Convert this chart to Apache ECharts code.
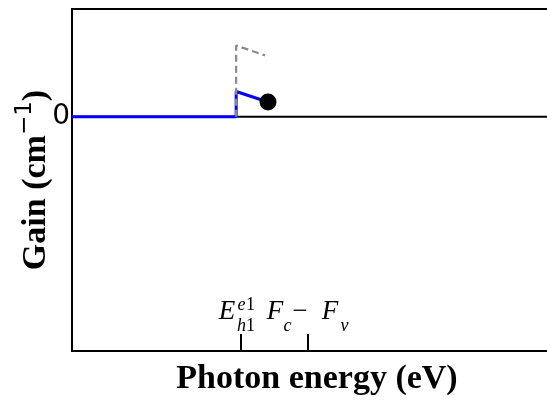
<!DOCTYPE html>
<html>
<head>
<meta charset="utf-8">
<script src="https://cdn.jsdelivr.net/npm/echarts@6/dist/echarts.min.js"></script>
<style>
  html, body { margin: 0; padding: 0; background: #fff; }
  #chart { width: 547px; height: 401px; }
</style>
</head>
<body>
<div id="chart"></div>
<script>
// Axis ranges (photon energy in eV, gain in arbitrary units)
const xMin = 1.35, xMax = 1.55;
const yMin = -1.0, yMax = 0.46;

// Marked energies on the x axis
const bandEdge = 1.419;        // E_h1^e1
const quasiFermiSep = 1.4463;  // F_c - F_v
const tickValues = [bandEdge, quasiFermiSep];

// Gain spectrum (blue), from the low-energy edge up to the end point
const gainEnergy = [1.35, 1.417, 1.417, 1.430];
const gainValue  = [0, 0, 0.108, 0.063];

// Reference spectrum (grey dashed)
const refEnergy = [1.417, 1.417, 1.4288];
const refValue  = [0, 0.304, 0.262];

// End point of the gain curve
const endEnergy = [1.430];
const endValue  = [0.063];

// Zero-gain line
const zeroEnergy = [xMin, xMax];
const zeroValue  = [0, 0];

// Y tick labels
const yTickValues = [0];

const pairs = (xs, ys) => xs.map((x, i) => [x, ys[i]]);

const serif = 'Liberation Serif, Times New Roman, serif';
// Big symbols on the first line of a tick label
const big = (w, extra) => Object.assign({ width: w, fontFamily: serif, fontSize: 27, lineHeight: 27, verticalAlign: 'bottom', color: '#000' }, extra || {});
// Raised superscripts on the first line
const sup = (w, extra) => Object.assign({ width: w, fontFamily: serif, fontSize: 18, lineHeight: 18, verticalAlign: 'bottom', padding: [0, 0, 11, 0], color: '#000' }, extra || {});
// Subscripts on the thin second line
const sub = (w, extra) => Object.assign({ width: w, fontFamily: serif, fontSize: 18, lineHeight: 2, color: '#000' }, extra || {});

const rich = {
  E:   big(18, { fontStyle: 'italic' }),
  F:   big(16, { fontStyle: 'italic' }),
  op:  big(16),
  b1:  big(1), b9: big(9), b11: big(11), b14: big(14),
  se:  sup(9, { fontStyle: 'italic' }),
  s1:  sup(9),
  sh:  sub(9, { fontStyle: 'italic' }),
  n1:  sub(9),
  sc:  sub(9, { fontStyle: 'italic' }),
  l9: sub(9), l16: sub(16), l19: sub(19), l48: sub(48)
};

// Two-line labels: main symbols with superscripts, then subscripts
function tickLabel(v) {
  if (Math.abs(v - bandEdge) < 1e-6) {
    return '{E|E}{b1| }{se|e}{s1|1}{b9| }\n{l19| }{sh|h}{n1|1}{l9| }';
  }
  return '{F|F}{b9| }{op|−}{b14| }{F|F}{b11| }\n{l16| }{sc|c}{l48| }{sc|v}';
}

const chart = echarts.init(document.getElementById('chart'), null, { renderer: 'canvas' });

chart.setOption({
  animation: false,
  backgroundColor: '#fff',
  grid: {
    left: 72, top: 9, right: -15, bottom: 50,
    show: true, borderColor: '#000', borderWidth: 2,
    backgroundColor: 'transparent',
    containLabel: false,
    outerBoundsMode: 'none'
  },
  xAxis: {
    type: 'value', min: xMin, max: xMax,
    name: 'Photon energy (eV)',
    nameLocation: 'middle', nameGap: 11,
    nameMoveOverlap: false,
    nameTextStyle: { fontFamily: serif, fontWeight: 'bold', fontSize: 34, color: '#000' },
    axisLine: { show: false, onZero: false },
    splitLine: { show: false },
    axisTick: {
      show: true, inside: true, length: 17,
      customValues: tickValues,
      lineStyle: { color: '#000', width: 2 }
    },
    axisLabel: {
      show: true, inside: true, margin: 24,
      hideOverlap: false,
      customValues: tickValues,
      formatter: tickLabel,
      rich: rich
    }
  },
  yAxis: {
    type: 'value', min: yMin, max: yMax,
    name: 'Gain (cm{sup|−1})',
    nameLocation: 'middle', nameRotate: 90, nameGap: 19,
    nameMoveOverlap: false,
    nameTextStyle: {
      fontFamily: serif, fontWeight: 'bold', fontSize: 34, color: '#000',
      verticalAlign: 'bottom',
      rich: {
        sup: { fontFamily: 'DejaVu Sans', fontWeight: 'normal', fontSize: 23, lineHeight: 23, verticalAlign: 'bottom', padding: [0, 0, 16, 0], color: '#000' }
      }
    },
    axisLine: { show: false, onZero: false },
    splitLine: { show: false },
    axisTick: { show: false },
    axisLabel: {
      show: true, margin: 2,
      customValues: yTickValues,
      fontFamily: 'DejaVu Sans', fontSize: 28, color: '#000'
    }
  },
  series: [
    {
      name: 'zero', type: 'line', z: 1, silent: true,
      data: pairs(zeroEnergy, zeroValue), symbol: 'none',
      lineStyle: { color: '#000', width: 2 }
    },
    {
      name: 'gain', type: 'line', z: 2, silent: true,
      data: pairs(gainEnergy, gainValue), symbol: 'none',
      lineStyle: { color: '#0000ff', width: 3 }
    },
    {
      name: 'reference', type: 'line', z: 3, silent: true,
      data: pairs(refEnergy, refValue), symbol: 'none',
      lineStyle: { color: '#8a8a8a', width: 2.2, type: [7, 4] }
    },
    {
      name: 'end', type: 'scatter', z: 4, silent: true,
      data: pairs(endEnergy, endValue), symbol: 'circle', symbolSize: 17,
      itemStyle: { color: '#000', opacity: 1 }
    }
  ]
});
</script>
</body>
</html>
